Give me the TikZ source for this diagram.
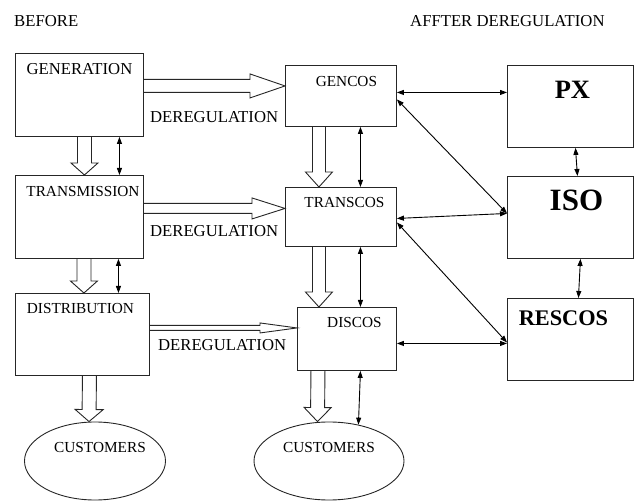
\documentclass[tikz,border=0pt]{standalone}
\usepackage{fontspec}
\setmainfont{Liberation Serif}
\usetikzlibrary{arrows.meta,positioning,calc,shapes.geometric}

% block arrow: start, end, half shaft, half head, head length
\newcommand{\hollowarrow}[5]{%
  \coordinate (ha-s) at #1;
  \coordinate (ha-e) at #2;
  \coordinate (ha-b) at ($(ha-e)!#5!(ha-s)$);
  \draw[hollow] ($(ha-s)!#3!90:(ha-e)$) -- ($(ha-b)!#3!90:(ha-e)$) -- ($(ha-b)!#4!90:(ha-e)$)
    -- (ha-e) -- ($(ha-b)!#4!-90:(ha-e)$) -- ($(ha-b)!#3!-90:(ha-e)$) -- ($(ha-s)!#3!-90:(ha-e)$);
}

\begin{document}
\begin{tikzpicture}[x=1pt, y=-1pt,
  box/.style={draw=black!85, line width=0.9pt, anchor=north west, inner sep=0pt},
  oval/.style={draw=black!85, line width=0.9pt, ellipse, inner sep=0pt},
  txt/.style={inner sep=0pt, font=\fontsize{15.3}{18}\selectfont},
  txtl/.style={inner sep=0pt, font=\fontsize{16.7}{19}\selectfont},
  head/.style={txtl, anchor=north west},
  big/.style={inner sep=0pt, font=\bfseries\fontsize{#1}{#1}\selectfont},
  hollow/.style={draw=black!85, line width=0.9pt, line join=miter},
  arr/.style={{Triangle[length=7pt,width=5pt]}-{Triangle[length=7pt,width=5pt]}, line width=0.9pt}]
  \useasboundingbox (0,0) rectangle (637,502);

  \node[head] (before) at (14,15) {BEFORE};
  \node[head] (after) at (410,15) {AFFTER DEREGULATION};

  % before
  \node[box, minimum width=128pt, minimum height=83pt] (gen) at (15,53) {};
  \node[box, minimum width=128pt, minimum height=83pt] (trans) at (15,175) {};
  \node[box, minimum width=134pt, minimum height=82pt] (dist) at (15,293) {};
  \node[oval, minimum width=141pt, minimum height=78pt] (cust1) at (95,461) {};
  \node[txtl, below=10pt of gen.north] (gen-t) {GENERATION};
  \node[txt, below=11pt of trans.north, xshift=3.5pt] (trans-t) {TRANSMISSION};
  \node[txt, below=10pt of dist.north, xshift=-2pt] (dist-t) {DISTRIBUTION};
  \node[txt, below=21pt of cust1.north, xshift=5pt] (cust1-t) {CUSTOMERS};

  % after
  \node[box, minimum width=111pt, minimum height=61pt] (gencos) at (285,65) {};
  \node[box, minimum width=111pt, minimum height=59pt] (transcos) at (285,187) {};
  \node[box, minimum width=99pt, minimum height=63pt] (discos) at (297,307) {};
  \node[oval, minimum width=150pt, minimum height=78pt] (cust2) at (329,461) {};
  \node[box, minimum width=126pt, minimum height=82pt] (px) at (507,65) {};
  \node[box, minimum width=126pt, minimum height=82pt] (iso) at (507,176) {};
  \node[box, minimum width=126pt, minimum height=82pt] (rescos) at (507,298) {};
  \node[txt, below=11pt of gencos.north, xshift=5.5pt] (gencos-t) {GENCOS};
  \node[txt, below=10pt of transcos.north, xshift=3.5pt] (transcos-t) {TRANSCOS};
  \node[txt, below=10pt of discos.north, xshift=7.5pt] (discos-t) {DISCOS};
  \node[txt, below=21pt of cust2.north] (cust2-t) {CUSTOMERS};
  \node[big=26.5, below=16pt of px.north, xshift=2pt] (px-t) {PX};
  \node[big=31, below=14pt of iso.north, xshift=6pt] (iso-t) {ISO};
  \node[big=22.3, below=13pt of rescos.north, xshift=-7pt] (rescos-t) {RESCOS};

  % deregulation
  \hollowarrow{([yshift=9pt]gen.east)}{(ha-s -| gencos.west)}{6.5pt}{12pt}{35pt}
  \hollowarrow{([yshift=8.5pt]trans.east)}{(ha-s -| transcos.west)}{5pt}{10.5pt}{33pt}
  \hollowarrow{([yshift=6.5pt]dist.east)}{(ha-s -| discos.west)}{2.5pt}{5pt}{37pt}
  \node[txtl, anchor=west] (dereg-g) at ([xshift=6pt,yshift=-22.5pt]gen.east) {DEREGULATION};
  \node[txtl, anchor=west] (dereg-t) at ([xshift=6pt,yshift=-14pt]trans.east) {DEREGULATION};
  \node[txtl, anchor=west] (dereg-d) at ([xshift=8pt,yshift=-11pt]dist.east) {DEREGULATION};

  % flows
  \hollowarrow{([xshift=5pt]gen.south)}{(ha-s |- trans.north)}{7pt}{13.5pt}{12pt}
  \hollowarrow{([xshift=4.5pt]trans.south)}{(ha-s |- dist.north)}{7pt}{13.5pt}{12pt}
  \hollowarrow{([xshift=7pt]dist.south)}{([xshift=-6pt]cust1.north)}{7pt}{14pt}{12pt}
  \hollowarrow{([xshift=-22pt]gencos.south)}{(ha-s |- transcos.north)}{6.5pt}{13.5pt}{15pt}
  \hollowarrow{([xshift=-22pt]transcos.south)}{(ha-s |- discos.north)}{6.5pt}{13.5pt}{15pt}
  \hollowarrow{([xshift=-29pt]discos.south)}{([xshift=-11.5pt]cust2.north)}{7pt}{13.5pt}{14pt}

  \draw[arr] ([xshift=40pt]gen.south) -- ([xshift=40pt]trans.north);
  \draw[arr] ([xshift=39pt]trans.south) -- ([xshift=36pt]dist.north);
  \draw[arr] ([xshift=19.5pt]gencos.south) -- ([xshift=19.5pt]transcos.north);
  \draw[arr] ([xshift=19.5pt]transcos.south) -- ([xshift=13.5pt]discos.north);
  \draw[arr] ([xshift=13.5pt]discos.south) -- (cust2.51);

  \draw[arr] ([yshift=3.5pt]gencos.east) -- ([yshift=14pt]px.west);
  \draw[arr] ([yshift=-3.5pt]gencos.east) -- ([yshift=4pt]iso.west);
  \draw[arr] ([yshift=-1.5pt]transcos.east) -- ([yshift=4pt]iso.west);
  \draw[arr] ([yshift=-5.5pt]transcos.east) -- ([yshift=-3pt]rescos.west);
  \draw[arr] ([yshift=-4.5pt]discos.east) -- ([yshift=-4pt]rescos.west);
  \draw[arr] ([xshift=5pt]px.south) -- ([xshift=7pt]iso.north);
  \draw[arr] ([xshift=10pt]iso.south) -- ([xshift=8pt]rescos.north);
\end{tikzpicture}
\end{document}
